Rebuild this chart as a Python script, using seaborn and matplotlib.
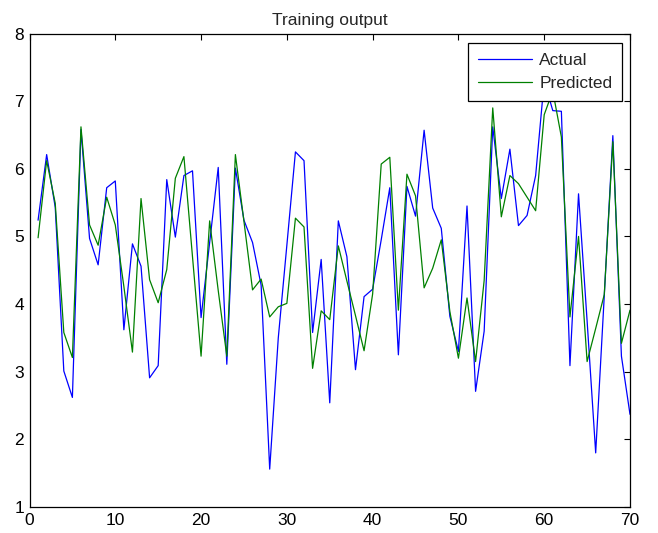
import pandas as pd
import matplotlib
matplotlib.use("Agg")
import matplotlib.pyplot as plt
import seaborn as sns

# valores
amostras = list(range(1, 71))
actual = [5.24, 6.21, 5.43, 3.01, 2.62, 6.58, 4.97, 4.58, 5.72, 5.82,
          3.62, 4.89, 4.56, 2.91, 3.09, 5.84, 4.99, 5.90, 5.97, 3.80,
          4.91, 6.02, 3.11, 6.01, 5.24, 4.91, 4.28, 1.56, 3.50, 4.87,
          6.25, 6.12, 3.58, 4.66, 2.54, 5.23, 4.70, 3.03, 4.11, 4.22,
          4.95, 5.72, 3.25, 5.74, 5.30, 6.57, 5.42, 5.12, 3.82, 3.30,
          5.45, 2.71, 3.60, 6.62, 5.56, 6.29, 5.16, 5.31, 5.90, 7.30,
          6.86, 6.85, 3.09, 5.63, 3.75, 1.80, 4.12, 6.49, 3.23, 2.37]
predicted = [4.98, 6.12, 5.49, 3.58, 3.21, 6.62, 5.17, 4.87, 5.58, 5.17,
             4.26, 3.29, 5.56, 4.36, 4.02, 4.51, 5.86, 6.18, 4.70, 3.23,
             5.23, 4.20, 3.23, 6.21, 5.22, 4.21, 4.37, 3.81, 3.96, 4.01,
             5.27, 5.14, 3.05, 3.90, 3.77, 4.86, 4.34, 3.83, 3.31, 4.15,
             6.07, 6.17, 3.91, 5.92, 5.60, 4.24, 4.53, 4.95, 3.89, 3.20,
             4.09, 3.15, 4.35, 6.90, 5.29, 5.90, 5.78, 5.58, 5.38, 6.80,
             7.15, 6.47, 3.81, 5.00, 3.15, 3.64, 4.14, 6.40, 3.42, 3.91]
series_names = ["Actual", "Predicted"]
x_ticks = [0, 10, 20, 30, 40, 50, 60, 70]
y_ticks = [1, 2, 3, 4, 5, 6, 7, 8]

df = pd.DataFrame({
    "Sample": amostras * 2,
    "Value": actual + predicted,
    "Series": [series_names[0]] * len(actual) + [series_names[1]] * len(predicted),
})

sns.set_style("white")
plt.rcParams["font.family"] = ["Liberation Sans", "DejaVu Sans"]
plt.rcParams["font.size"] = 12.5

fig = plt.figure(figsize=(6.58, 5.33), dpi=100)
ax = fig.add_axes([29.5 / 658, 1 - 507 / 533, 600.5 / 658, 473.5 / 533])

sns.lineplot(data=df, x="Sample", y="Value", hue="Series",
             palette={"Actual": (0, 0, 1), "Predicted": (0, 0.5, 0)},
             linewidth=0.9, ax=ax)

ax.set_xlim(0, 70)
ax.set_ylim(1, 8)
ax.set_xticks(x_ticks)
ax.set_yticks(y_ticks)
ax.set_xlabel("")
ax.set_ylabel("")
ax.set_title("Training output", fontsize=12.5, pad=6)
ax.tick_params(direction="in", top=True, right=True, length=4.5, width=0.8,
               colors="black", labelsize=12.5, pad=4)
for s in ax.spines.values():
    s.set_color("black")
    s.set_linewidth(0.9)

leg = ax.legend(loc="upper right", bbox_to_anchor=(0.9867, 0.979),
                borderaxespad=0, fancybox=False, framealpha=1,
                edgecolor="black", handlelength=3.1, fontsize=12.5,
                borderpad=0.55, labelspacing=0.45, handletextpad=0.45)
leg.get_frame().set_linewidth(0.9)
leg.set_zorder(10)

fig.savefig("out.png", dpi=100)
